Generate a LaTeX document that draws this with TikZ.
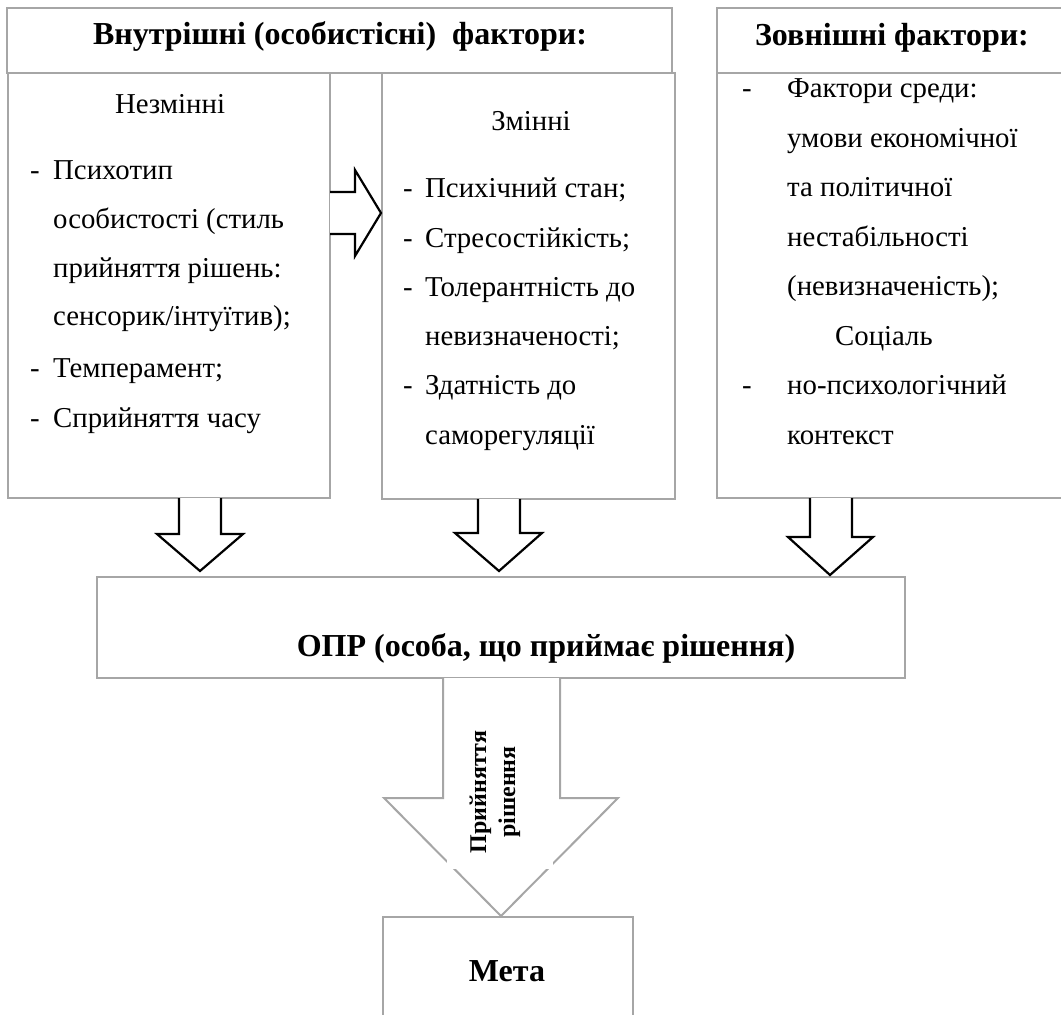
\documentclass[tikz,border=0pt]{standalone}
\usepackage{fontspec}
\setmainfont{Liberation Serif}
\definecolor{boxgray}{HTML}{A6A6A6}
\newcommand\bodyfont{\fontsize{28.8}{34}\selectfont}
\newcommand\headfont{\fontsize{32}{38}\selectfont\bfseries}
\newcommand\oprfont{\fontsize{32}{38}\selectfont\bfseries}
\newcommand\lblfont{\fontsize{24}{29}\selectfont\bfseries}
\newcommand\mybox[5]{\node[box, minimum width={(#4-#2)*1pt}, minimum height={(#5-#3)*1pt}] (#1) at ({(#2+#4)/2},{(#3+#5)/2}) {};}
\begin{document}
\begin{tikzpicture}[x=1pt,y=-1pt,
  box/.style={draw=boxgray, line width=2pt, inner sep=0pt, outer sep=0pt},
  txt/.style={anchor=base west, inner sep=0pt, font=\bodyfont},
  ctxt/.style={anchor=base, inner sep=0pt, font=\bodyfont},
  htxt/.style={anchor=base, inner sep=0pt, font=\headfont},
  blk/.style={draw=black, line width=2.2pt, fill=white, line join=miter},
  gblk/.style={draw=boxgray, line width=2pt, fill=white, line join=miter}]
\useasboundingbox (0,0) rectangle (1061,1015);

% boxes
\mybox{inthead}{7}{8}{672}{73}
\mybox{nezm}{8}{73}{330}{498}
\mybox{zmin}{382}{73}{675}{499}
\mybox{exthead}{717}{8}{1075}{73}
\mybox{ext}{717}{73}{1075}{498}
\mybox{opr}{97}{577}{905}{678}
\mybox{meta}{383}{917}{633}{1035}

% headers
\node[htxt] (th1) at (340,44) {Внутрішні (особистісні)\ \ фактори:};
\node[htxt] (th2) at (892,45) {Зовнішні фактори:};

% left box
\node[ctxt] (tn0) at (170,113) {Незмінні};
\node[txt] (dn1) at (30,179) {-};
\node[txt] (tn1) at (53,179) {Психотип};
\node[txt] (tn2) at (53,228) {особистості (стиль};
\node[txt] (tn3) at (53,277) {прийняття рішень:};
\node[txt] (tn4) at (53,325) {сенсорик/інтуїтив);};
\node[txt] (dn5) at (30,377) {-};
\node[txt] (tn5) at (53,377) {Темперамент;};
\node[txt] (dn6) at (30,427) {-};
\node[txt] (tn6) at (53,427) {Сприйняття часу};

% middle box
\node[ctxt] (tz0) at (531,130) {Змінні};
\node[txt] (dz1) at (403,197) {-};
\node[txt] (tz1) at (425,197) {Психічний стан;};
\node[txt] (dz2) at (403,247) {-};
\node[txt] (tz2) at (425,247) {Стресостійкість;};
\node[txt] (dz3) at (403,296) {-};
\node[txt] (tz3) at (425,296) {Толерантність до};
\node[txt] (tz4) at (425,345) {невизначеності;};
\node[txt] (dz5) at (403,394) {-};
\node[txt] (tz5) at (425,394) {Здатність до};
\node[txt] (tz6) at (425,444) {саморегуляції};

% right box
\node[txt] (de1) at (742,97) {-};
\node[txt] (te1) at (787,97) {Фактори среди:};
\node[txt] (te2) at (787,147) {умови економічної};
\node[txt] (te3) at (787,196) {та політичної};
\node[txt] (te4) at (787,246) {нестабільності};
\node[txt] (te5) at (787,295) {(невизначеність);};
\node[txt] (te6) at (835,345) {Соціаль};
\node[txt] (de7) at (742,394) {-};
\node[txt] (te7) at (787,394) {но-психологічний};
\node[txt] (te8) at (787,444) {контекст};

% block arrows
\draw[blk] (330,192) -- (355,192) -- (355,170) -- (381,213) -- (355,256) -- (355,234) -- (330,234);
\draw[blk] (179,498) -- (179,534) -- (157,534) -- (200,571) -- (243,534) -- (221,534) -- (221,498);
\draw[blk] (478,499) -- (478,533) -- (455,533) -- (499,571) -- (542,533) -- (520,533) -- (520,499);
\draw[blk] (810,498) -- (810,537) -- (788,537) -- (830,575) -- (873,537) -- (852,537) -- (852,498);

% OPR text
\node[anchor=base, inner sep=0pt, font=\oprfont] (topr) at (546,656) {ОПР (особа, що приймає рішення)};

% big arrow
\draw[gblk] (443,678) -- (443,798) -- (384,798) -- (501,916) -- (618,798) -- (560,798) -- (560,678);
\node[fill=white, inner sep=0pt, minimum width=106pt, minimum height=143pt] (lblbg) at (500,797) {};
\node[rotate=90, align=center, inner sep=0pt, font=\lblfont] (lbl) at (495,792) {Прийняття\\рішення};

% meta
\node[anchor=base, inner sep=0pt, font=\headfont] (tmeta) at (507,981) {Мета};
\end{tikzpicture}
\end{document}
